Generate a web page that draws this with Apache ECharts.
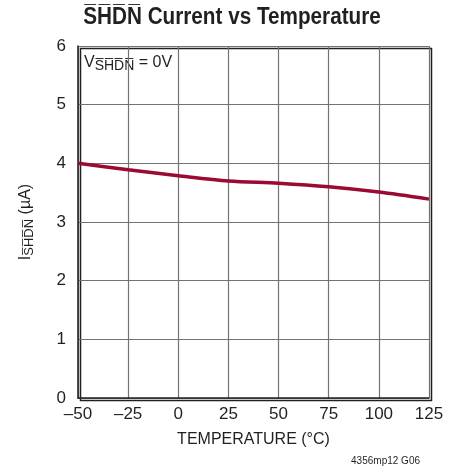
<!DOCTYPE html>
<html>
<head>
<meta charset="utf-8">
<script src="https://cdn.jsdelivr.net/npm/echarts@6/dist/echarts.min.js"></script>
<style>
  html, body { margin: 0; padding: 0; background: #fff; }
  #chart { width: 458px; height: 470px; }
</style>
</head>
<body>
<div id="chart"></div>
<script>
// temperature (°C) vs shutdown current (µA)
const temps = [-50, -25, 0, 25, 50, 75, 100, 125];
const current = [4.0, 3.89, 3.79, 3.70, 3.66, 3.60, 3.51, 3.39];
const xTicks = [-50, 125, 25];
const yTicks = [0, 6, 1];

const FONT = '"Liberation Sans", Arial, sans-serif';
const INK = '#231f20';
const OVER = s => s.split('').map(c => c + '\u0305').join('');

const chart = echarts.init(document.getElementById('chart'));

const option = {
  animation: false,
  grid: { left: 78, right: 29, top: 46, bottom: 72 },
  xAxis: {
    type: 'value',
    min: xTicks[0], max: xTicks[1], interval: xTicks[2],
    name: 'TEMPERATURE (°C)',
    nameLocation: 'middle',
    nameGap: 34,
    nameTextStyle: { fontFamily: FONT, fontSize: 16, color: INK },
    axisLine: { show: true, onZero: false, lineStyle: { color: INK, width: 1.5 } },
    axisTick: { show: false },
    axisLabel: {
      fontFamily: FONT, fontSize: 17, color: INK, margin: 8,
      formatter: v => String(v).replace('-', '\u2013')
    },
    splitLine: { show: true, lineStyle: { color: '#727272', width: 1.2 } }
  },
  yAxis: {
    type: 'value',
    min: yTicks[0], max: yTicks[1], interval: yTicks[2],
    name: '{i|I}{s|' + OVER('SHDN') + '}{i| (µA)}',
    nameLocation: 'middle',
    nameGap: 42,
    nameTextStyle: {
      fontFamily: FONT, fontSize: 16, color: INK,
      rich: {
        i: { fontFamily: FONT, fontSize: 16, color: INK, verticalAlign: 'top', lineHeight: 18 },
        s: { fontFamily: FONT, fontSize: 13, color: INK, verticalAlign: 'bottom', lineHeight: 13, padding: [8, 0, 0, 0] }
      }
    },
    axisLine: { show: true, onZero: false, lineStyle: { color: INK, width: 1.5 } },
    axisTick: { show: false },
    axisLabel: { fontFamily: FONT, fontSize: 17, color: INK, margin: 12 },
    splitLine: { show: true, lineStyle: { color: '#727272', width: 1.2 } }
  },
  graphic: [
    {
      type: 'text', x: 232, y: 6, scaleX: 0.9,
      style: {
        text: '{o|' + OVER('SHDN') + '} Current vs Temperature',
        align: 'center',
        rich: { o: { fontFamily: FONT, fontSize: 23, fontWeight: 'bold', fill: INK } },
        fontFamily: FONT, fontSize: 23, fontWeight: 'bold', fill: INK
      }
    },
    {
      type: 'rect', left: 78, top: 46, z: 0, silent: true,
      shape: { width: 351, height: 352 },
      style: { fill: 'none', stroke: INK, lineWidth: 1.5 }
    },
    {
      type: 'text', left: 84, top: 52,
      style: {
        text: '{v|V}{s|' + OVER('SHDN') + '}{v| = 0V}',
        rich: {
          v: { fontFamily: FONT, fontSize: 16, fill: INK, verticalAlign: 'top', lineHeight: 18 },
          s: { fontFamily: FONT, fontSize: 14, fill: INK, verticalAlign: 'bottom', lineHeight: 14, padding: [7, 0, 0, 0] }
        }
      }
    },
    {
      type: 'text', right: 38, top: 456,
      style: { text: '4356mp12 G06', fontFamily: FONT, fontSize: 10, fill: INK }
    }
  ],
  series: [{
    type: 'line',
    data: temps.map((t, i) => [t, current[i]]),
    smooth: 0.3,
    showSymbol: false,
    lineStyle: { color: '#9b0a32', width: 3.5 }
  }]
};

chart.setOption(option);
</script>
</body>
</html>
